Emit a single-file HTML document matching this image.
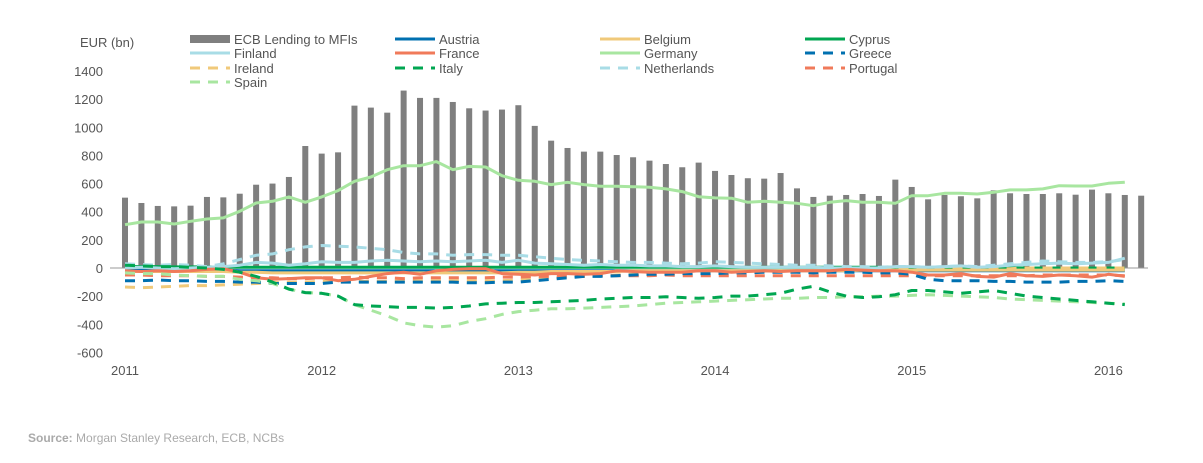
<!DOCTYPE html>
<html><head><meta charset="utf-8"><style>
body{margin:0;background:#fff;}
svg{display:block;font-family:"Liberation Sans",sans-serif;}
</style></head><body>
<svg id="chart" width="1203" height="463" viewBox="0 0 1203 463">
<text x="80" y="47" font-size="13" fill="#555">EUR (bn)</text>
<g id="yticks"></g><g id="xticks"></g><g id="bars"></g><g id="lines"></g><g id="legend"></g>
<text x="28" y="442" font-size="12" fill="#aaa"><tspan font-weight="bold">Source:</tspan> Morgan Stanley Research, ECB, NCBs</text>
</svg>
<script>
const yTicks=[1400,1200,1000,800,600,400,200,0,-200,-400,-600];
const yearLabels=["2011","2012","2013","2014","2015","2016"];
const lending=[500,462,441,438,443,505,502,528,592,600,647,867,813,822,1154,1140,1104,1261,1209,1209,1180,1135,1119,1126,1157,1010,905,853,827,827,803,787,763,739,716,749,690,661,638,635,675,566,505,514,519,526,512,628,576,488,519,510,495,552,531,526,526,531,521,557,531,519,514];
const germany=[308,327,327,313,332,348,356,403,462,474,505,467,505,550,616,647,699,727,727,756,699,722,718,656,623,616,593,609,593,581,581,578,574,562,543,507,498,496,467,474,467,460,443,467,479,467,467,460,514,514,531,531,526,538,555,555,562,585,583,583,602,610];
const spain=[-35,-40,-40,-50,-55,-60,-60,-80,-90,-110,-150,-175,-180,-200,-260,-300,-340,-390,-410,-420,-410,-380,-360,-330,-310,-300,-290,-290,-285,-280,-275,-270,-260,-250,-245,-240,-235,-230,-225,-220,-215,-215,-210,-210,-205,-205,-200,-200,-195,-190,-195,-200,-205,-210,-220,-225,-230,-235,-240,-245,-250,-255];
const italy=[20,15,10,10,5,0,-10,-30,-60,-100,-150,-175,-180,-200,-260,-270,-275,-280,-280,-285,-280,-270,-255,-250,-245,-245,-240,-235,-230,-220,-215,-210,-210,-205,-210,-215,-210,-200,-200,-190,-180,-150,-130,-170,-200,-210,-205,-190,-160,-160,-170,-180,-170,-160,-180,-200,-210,-220,-230,-240,-250,-260];
const netherlands=[30,25,20,25,20,10,30,60,90,100,130,150,160,155,150,140,130,110,100,100,90,95,95,90,90,80,70,60,55,50,45,40,40,35,30,35,45,40,35,30,25,20,20,15,10,10,5,10,10,5,10,15,10,20,30,40,50,45,40,40,45,60];
const finland=[0,5,0,-5,0,5,10,20,40,35,20,30,45,40,40,50,55,50,45,50,45,50,55,40,55,35,30,25,20,25,20,20,15,15,10,10,15,10,5,5,5,5,5,0,0,0,0,10,10,5,10,15,5,10,20,25,30,35,30,35,40,70];
const greece=[-90,-90,-85,-90,-90,-95,-95,-100,-100,-110,-110,-110,-110,-100,-100,-100,-100,-100,-100,-100,-100,-105,-105,-100,-100,-90,-80,-70,-60,-60,-55,-50,-45,-45,-40,-40,-40,-35,-35,-30,-30,-30,-35,-30,-30,-30,-35,-35,-45,-80,-90,-90,-90,-95,-95,-100,-100,-100,-95,-95,-90,-95];
const ireland=[-135,-140,-135,-130,-125,-125,-120,-115,-110,-105,-100,-100,-95,-95,-95,-95,-95,-90,-90,-90,-90,-90,-90,-90,-85,-75,-70,-65,-60,-55,-50,-45,-45,-40,-40,-35,-30,-30,-30,-25,-20,-20,-20,-20,-15,-15,-15,-10,-10,-5,-5,-5,-5,-5,-5,0,0,0,0,0,0,0];
const portugal=[-50,-50,-55,-55,-55,-60,-60,-65,-70,-70,-75,-75,-70,-70,-65,-70,-70,-75,-70,-70,-70,-70,-70,-65,-65,-60,-60,-60,-60,-55,-55,-55,-55,-50,-55,-55,-55,-55,-55,-55,-55,-55,-55,-55,-55,-55,-55,-55,-55,-55,-55,-55,-55,-55,-55,-55,-50,-50,-50,-50,-50,-55];
const france=[-20,-25,-20,-25,-20,-10,-5,-30,-70,-80,-75,-70,-70,-90,-80,-60,-40,-30,-45,-20,-10,-5,-5,-40,-45,-50,-40,-40,-45,-40,-20,-25,-30,-30,-30,-20,-20,-30,-25,-20,-25,-20,-20,-20,-10,-15,-20,-20,-30,-50,-50,-40,-60,-65,-40,-55,-60,-50,-55,-65,-45,-60];
const cyprus=[10,10,10,8,8,8,5,5,5,5,5,5,5,5,5,5,5,5,5,5,5,5,5,5,5,5,5,5,5,5,5,5,5,5,5,5,5,5,5,5,5,5,5,5,5,5,5,5,0,0,0,0,0,0,0,0,0,0,0,0,0,0];
const austria=[-15,-15,-15,-15,-15,-15,-15,-20,-20,-20,-20,-20,-20,-20,-20,-20,-20,-20,-20,-20,-20,-20,-20,-20,-20,-20,-20,-20,-20,-20,-20,-20,-20,-20,-20,-20,-20,-20,-20,-20,-20,-20,-20,-20,-20,-20,-20,-20,-20,-20,-20,-20,-20,-20,-20,-20,-20,-20,-20,-20,-20,-20];
const belgium=[-25,-25,-25,-25,-25,-25,-25,-30,-30,-35,-35,-35,-35,-35,-35,-35,-35,-35,-35,-35,-35,-35,-35,-35,-30,-30,-25,-25,-25,-25,-25,-20,-20,-20,-20,-20,-20,-20,-20,-20,-20,-20,-20,-20,-20,-15,-15,-15,-15,-15,-15,-15,-15,-15,-15,-15,-15,-15,-15,-15,-15,-15];

const NS="http://www.w3.org/2000/svg";
const x0=125,dx=16.39;
function xPos(i){return x0+i*dx;}
function yPos(v){return 268-v*0.1407;}
function mk(t,a,p){const e=document.createElementNS(NS,t);for(const k in a)e.setAttribute(k,a[k]);p.appendChild(e);return e;}
const gy=document.getElementById('yticks');
yTicks.forEach(v=>{const t=mk('text',{x:103,y:yPos(v)+5,'font-size':13,fill:'#555','text-anchor':'end'},gy);t.textContent=v;

});
const gx=document.getElementById('xticks');
yearLabels.forEach((l,k)=>{const t=mk('text',{x:xPos(k*12),y:375,'font-size':13,fill:'#555','text-anchor':'middle'},gx);t.textContent=l;

});
const gb=document.getElementById('bars');
lending.forEach((v,i)=>{const r=mk('rect',{x:xPos(i)-3,y:Math.min(yPos(v),yPos(0)),width:6,height:Math.abs(yPos(v)-yPos(0)),fill:'#7f7f7f'},gb);

});
const ax=mk('line',{x1:110,x2:1148,y1:yPos(0),y2:yPos(0),stroke:'#999','stroke-width':1},gb);


const series=[
 ["Cyprus",cyprus,"#00a651",false],["Austria",austria,"#0070b0",false],["Belgium",belgium,"#f0c97a",false],
 ["Ireland",ireland,"#f0c97a",true],["Portugal",portugal,"#f07a5a",true],["Greece",greece,"#0070b0",true],
 ["Netherlands",netherlands,"#a8dce6",true],["Finland",finland,"#a8dce6",false],["France",france,"#f07a5a",false],
 ["Germany",germany,"#a8e6a0",false],["Spain",spain,"#a8e6a0",true],["Italy",italy,"#00a651",true]];
const gl=document.getElementById('lines');
series.forEach(s=>{const d=s[1].map((v,i)=>(i?'L':'M')+xPos(i).toFixed(1)+','+yPos(v).toFixed(1)).join('');
const p=mk('path',{d:d,fill:'none',stroke:s[2],'stroke-width':3,'stroke-linejoin':'round','stroke-dasharray':s[3]?'10,8':'none'},gl);

});
const legendItems=[["ECB Lending to MFIs","#7f7f7f","bar"],["Austria","#0070b0","s"],["Belgium","#f0c97a","s"],["Cyprus","#00a651","s"],
["Finland","#a8dce6","s"],["France","#f07a5a","s"],["Germany","#a8e6a0","s"],["Greece","#0070b0","d"],
["Ireland","#f0c97a","d"],["Italy","#00a651","d"],["Netherlands","#a8dce6","d"],["Portugal","#f07a5a","d"],["Spain","#a8e6a0","d"]];
const colX=[190,395,600,805],rowY=[39,53,68,82];
const lg=document.getElementById('legend');
legendItems.forEach((it,k)=>{const cx=colX[k%4],cy=rowY[Math.floor(k/4)];
const g=mk('g',{},lg);


if(it[2]=='bar')mk('rect',{x:cx,y:cy-4,width:40,height:8,fill:it[1]},g);
else mk('line',{x1:cx,x2:cx+40,y1:cy,y2:cy,stroke:it[1],'stroke-width':3,'stroke-dasharray':it[2]=='d'?'10,8':'none'},g);
const t=mk('text',{x:cx+44,y:cy+5,'font-size':13,fill:'#555'},g);t.textContent=it[0];});
</script>
</body></html>
